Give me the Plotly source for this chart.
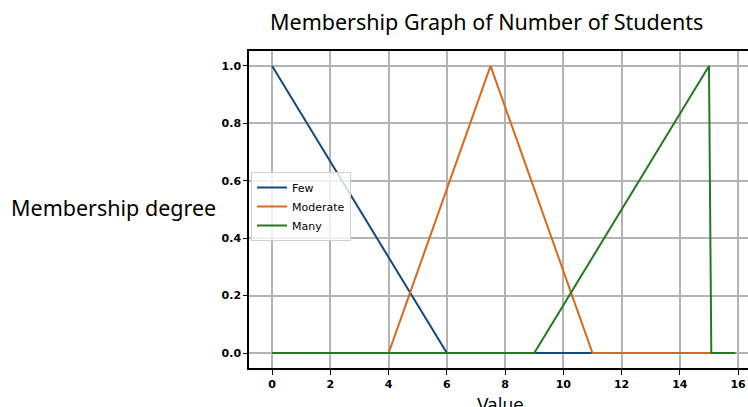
import plotly.graph_objects as go

few_x = [0, 6, 15.9]
few_y = [1, 0, 0]
mod_x = [0, 4, 7.5, 11, 15.9]
mod_y = [0, 0, 1, 0, 0]
many_x = [0, 9, 15.0, 15.08, 15.9]
many_y = [0, 0, 1, 0, 0]

x_ticks = [0, 2, 4, 6, 8, 10, 12, 14, 16]
y_ticks = [0.0, 0.2, 0.4, 0.6, 0.8, 1.0]
y_tick_labels = ["0.0", "0.2", "0.4", "0.6", "0.8", "1.0"]

title_text = "Membership Graph of Number of Students"
ylabel_text = "Membership degree"
xlabel_text = "Value"

W, H = 748, 407
L, T = 249, 51
B = H - 368
PW = W - L
PH = H - T - B

fig = go.Figure()
fig.add_trace(go.Scatter(x=few_x, y=few_y, mode="lines", name="Few",
                         line=dict(color="#17477d", width=2)))
fig.add_trace(go.Scatter(x=mod_x, y=mod_y, mode="lines", name="Moderate",
                         line=dict(color="#d8681e", width=2)))
fig.add_trace(go.Scatter(x=many_x, y=many_y, mode="lines", name="Many",
                         line=dict(color="#227a22", width=2)))

tickfont = dict(family="DejaVu Sans", size=11, color="black", weight="bold")

fig.update_layout(
    width=W, height=H,
    margin=dict(l=L, r=0, t=T, b=B, autoexpand=False),
    paper_bgcolor="white", plot_bgcolor="white",
    showlegend=True,
    legend=dict(x=0.004, y=(368 - 172) / PH, xanchor="left", yanchor="top",
                bgcolor="rgba(255,255,255,0.8)", bordercolor="#d0d0d0", borderwidth=1,
                font=dict(family="DejaVu Sans", size=11, color="black"),
                itemwidth=30, tracegroupgap=0),
    xaxis=dict(range=[-0.795, 16.34], tickvals=x_ticks,
               ticktext=[str(v) for v in x_ticks],
               showgrid=True, gridcolor="#b4b4b4", gridwidth=1.5,
               showline=True, linecolor="black", linewidth=1.5, mirror=True,
               ticks="outside", ticklen=5, tickcolor="black", tickwidth=1.2,
               tickfont=tickfont, zeroline=False, automargin=False),
    yaxis=dict(range=[-0.052, 1.052], tickvals=y_ticks, ticktext=y_tick_labels,
               showgrid=True, gridcolor="#b4b4b4", gridwidth=1.5,
               showline=True, linecolor="black", linewidth=1.5,
               ticks="outside", ticklen=4, tickcolor="black", tickwidth=1.2,
               tickfont=tickfont, zeroline=False, automargin=False),
    annotations=[
        dict(text=title_text, xref="paper", yref="paper", x=(486 - 249) / PW,
             y=1.0, yshift=13, xanchor="center", yanchor="bottom",
             showarrow=False, font=dict(family="Noto Sans", size=21.5, color="black")),
        dict(text=ylabel_text, xref="paper", yref="paper", x=(9 - 249) / PW,
             y=(368 - 207) / PH, xanchor="left", yanchor="middle",
             showarrow=False, font=dict(family="Noto Sans", size=21.5, color="black")),
        dict(text=xlabel_text, xref="paper", yref="paper", x=(500 - 249) / PW,
             y=0, yshift=-25, xanchor="center", yanchor="top",
             showarrow=False, font=dict(family="DejaVu Sans", size=17, color="black")),
    ],
)

fig.write_html(
    "out.html",
    config={"displayModeBar": False},
    post_script="document.body.style.margin='0';document.body.style.overflow='hidden';",
)
